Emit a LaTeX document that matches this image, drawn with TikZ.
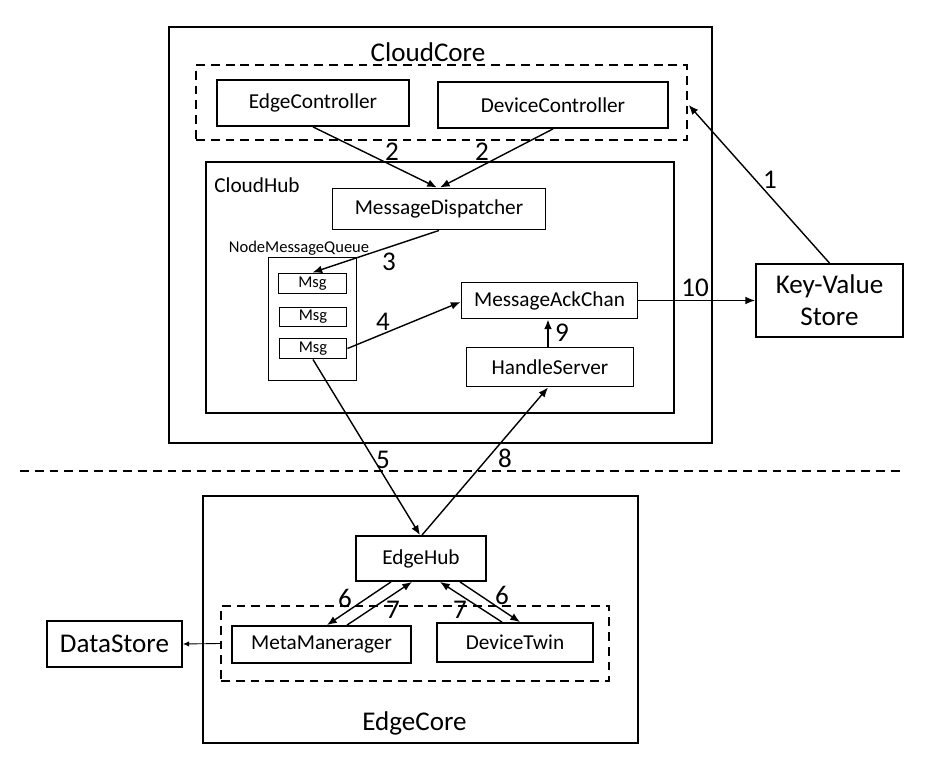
\documentclass[tikz,border=0pt]{standalone}
\usepackage{fontspec}
\setmainfont{Carlito}
\usetikzlibrary{arrows.meta}
\usetikzlibrary{calc}

\newcommand{\bigtxt}{\fontsize{15.4}{18}\selectfont}
\newcommand{\midtxt}{\fontsize{12.1}{14}\selectfont}
\newcommand{\smalltxt}{\fontsize{9.4}{11}\selectfont}

\tikzset{
    thickbox/.style={draw, line width=1.05pt, inner sep=0pt, font=\midtxt},
    thinbox/.style={draw, line width=0.57pt, inner sep=0pt, font=\midtxt},
    group/.style={draw, line width=0.85pt, dash pattern=on 5pt off 3.4pt, inner sep=0pt},
    arr/.style={-{Latex[length=5.5pt,width=4.4pt]}, line width=0.8pt},
    num/.style={font=\bigtxt, inner sep=0pt}
}

\begin{document}
\begin{tikzpicture}[x=0.02cm, y=-0.02cm]

    \useasboundingbox (0,0) rectangle (931,757);

    % cloud side
    \node[thickbox, minimum width=10.86cm, minimum height=8.32cm] (cloudcore) at (440.5,235) {};
    \node[font=\bigtxt] (cclabel) at (428,52) {CloudCore};
    \node[group, minimum width=9.82cm, minimum height=1.5cm] (ctrlgroup) at (441.5,102.5) {};
    \node[thickbox, minimum width=3.84cm, minimum height=0.92cm] (ec) at (313,103) {EdgeController};
    \node[thickbox, minimum width=4.6cm, minimum height=0.92cm] (dc) at (553,105) {DeviceController};

    \node[thickbox, minimum width=9.36cm, minimum height=5.02cm] (cloudhub) at (440,287.5) {};
    \node[font=\midtxt] (chlabel) at (257,185) {CloudHub};
    \node[thinbox, minimum width=4.28cm, minimum height=0.84cm] (md) at (439,209) {MessageDispatcher};

    \node[thinbox, minimum width=1.78cm, minimum height=2.48cm] (nmq) at (312.5,319) {};
    \node[font=\smalltxt, inner sep=0pt] (nmqlabel) at (299,248) {NodeMessageQueue};
    \node[thinbox, font=\smalltxt, minimum width=1.38cm, minimum height=0.42cm] (m1) at (312.5,283.5) {Msg};
    \node[thinbox, font=\smalltxt, minimum width=1.36cm, minimum height=0.40cm] (m2) at (313,317) {Msg};
    \node[thinbox, font=\smalltxt, minimum width=1.36cm, minimum height=0.42cm] (m3) at (313,348.5) {Msg};

    \node[thinbox, minimum width=3.54cm, minimum height=0.74cm] (mac) at (549.5,300.5) {MessageAckChan};
    \node[thinbox, minimum width=3.36cm, minimum height=0.8cm] (hs) at (550,367) {HandleServer};

    \node[thickbox, font=\bigtxt, align=center, minimum width=2.94cm, minimum height=1.46cm] (kv) at (829.5,300.5) {Key-Value\\[0pt]Store};

    % cloud / edge border
    \coordinate (sepl) at (20,471);
    \coordinate (sepr) at (903,471);
    \draw[line width=0.85pt, dash pattern=on 5pt off 3.4pt] (sepl) -- (sepr);

    % edge side
    \node[thickbox, minimum width=8.7cm, minimum height=4.94cm] (edgecore) at (420.5,619.5) {};
    \node[font=\bigtxt] (eclabel) at (414.5,723) {EdgeCore};
    \node[thickbox, minimum width=2.6cm, minimum height=0.9cm] (eh) at (421,558.5) {EdgeHub};
    \node[group, minimum width=7.76cm, minimum height=1.5cm] (edgegroup) at (415,643.5) {};
    \node[thickbox, minimum width=3.58cm, minimum height=0.74cm] (mm) at (321.5,644.5) {MetaManerager};
    \node[thickbox, minimum width=3.12cm, minimum height=0.78cm] (dt) at (515,642.5) {DeviceTwin};
    \node[thickbox, font=\bigtxt, minimum width=2.7cm, minimum height=0.92cm] (ds) at (114.5,644) {DataStore};

    % message flow
    \draw[arr] (kv.north) -- ($(ctrlgroup.east)+(1,2.5)$);
    \draw[arr] (ec.south) -- ($(md.north)+(-2,0)$);
    \draw[arr] (dc.south) -- ($(md.north)+(1,0)$);
    \draw[arr] (md.south) -- (m1.north);
    \draw[arr] (m3.east) -- ($(mac.west)+(0,1.5)$);
    \draw[arr] (m3.south) -- ($(eh.north)+(-1,0)$);
    \draw[arr] ($(eh.north)+(1,0)$) -- ($(hs.south)+(-2,0)$);
    \draw[arr] ($(hs.north)+(-2,0)$) -- ($(mac.south)+(-1.5,0)$);
    \draw[arr] (mac.east) -- (kv.west);
    \draw[arr] ($(eh.south)+(-30,0)$) -- ($(mm.north)+(5.5,0)$);
    \draw[arr] ($(mm.north)+(25.5,0)$) -- ($(eh.south)+(-9,0)$);
    \draw[arr] ($(dt.north)+(-13,0)$) -- ($(eh.south)+(19,0)$);
    \draw[arr] ($(eh.south)+(39,0)$) -- ($(dt.north)+(5,0)$);
    \draw[-{Latex[length=3.5pt,width=3pt]}, line width=0.5pt] (edgegroup.west) -- (ds.east);

    % step numbers
    \node[num] (n1) at (770,180) {1};
    \node[num] (n2a) at (392,152) {2};
    \node[num] (n2b) at (482,152) {2};
    \node[num] (n3) at (389,262) {3};
    \node[num] (n4) at (383,322) {4};
    \node[num] (n5) at (383,460) {5};
    \node[num] (n8) at (505,458) {8};
    \node[num] (n9) at (562,333) {9};
    \node[num] (n10) at (695,288) {10};
    \node[num] (n6a) at (345,598) {6};
    \node[num] (n7a) at (393,610) {7};
    \node[num] (n7b) at (460,610) {7};
    \node[num] (n6b) at (502,595) {6};

\end{tikzpicture}
\end{document}
